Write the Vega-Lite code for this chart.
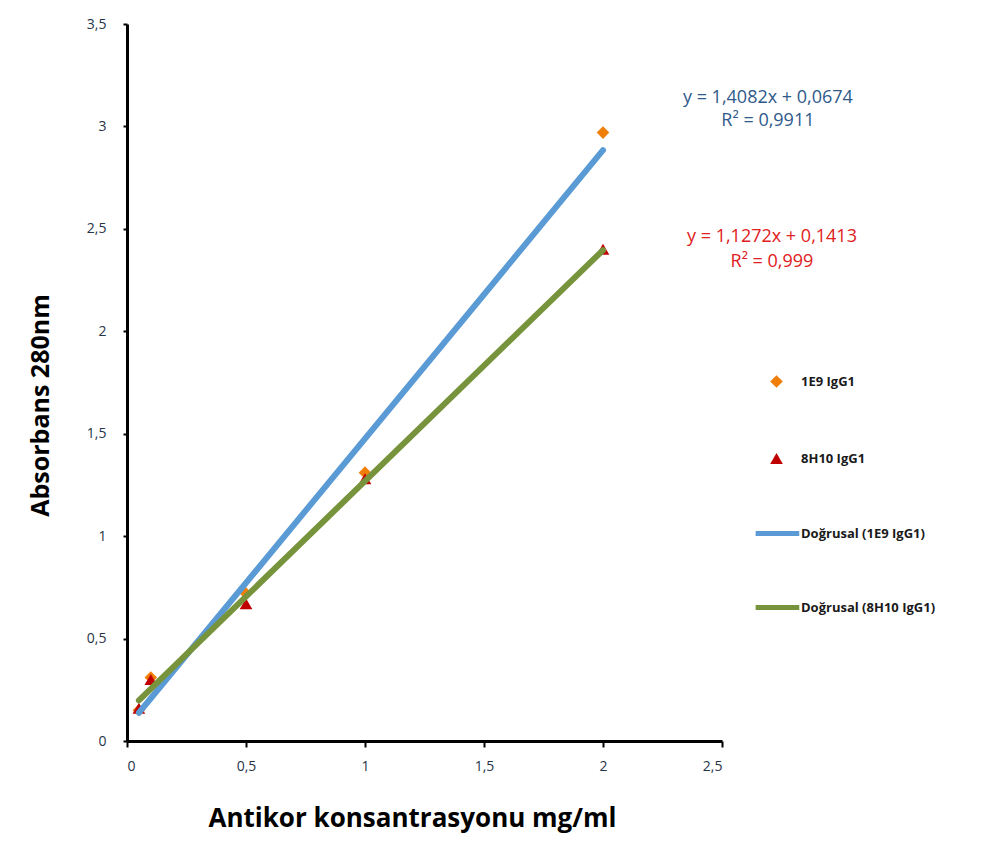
{
  "$schema": "https://vega.github.io/schema/vega-lite/v6.json",
  "width": 595,
  "height": 717,
  "autosize": {"type": "none"},
  "padding": {"left": 127, "top": 24, "right": 265, "bottom": 118},
  "background": "white",
  "config": {"view": {"stroke": null}, "font": "Open Sans"},
  "datasets": {
    "points": [
      {"conc": 0.05, "abs": 0.15, "series": "1E9 IgG1"},
      {"conc": 0.1, "abs": 0.31, "series": "1E9 IgG1"},
      {"conc": 0.5, "abs": 0.72, "series": "1E9 IgG1"},
      {"conc": 1.0, "abs": 1.31, "series": "1E9 IgG1"},
      {"conc": 2.0, "abs": 2.97, "series": "1E9 IgG1"},
      {"conc": 0.05, "abs": 0.16, "series": "8H10 IgG1"},
      {"conc": 0.1, "abs": 0.30, "series": "8H10 IgG1"},
      {"conc": 0.5, "abs": 0.67, "series": "8H10 IgG1"},
      {"conc": 1.0, "abs": 1.28, "series": "8H10 IgG1"},
      {"conc": 2.0, "abs": 2.40, "series": "8H10 IgG1"}
    ],
    "trend": [
      {"conc": 0.05, "abs": 0.138, "series": "Doğrusal (1E9 IgG1)"},
      {"conc": 2.0, "abs": 2.884, "series": "Doğrusal (1E9 IgG1)"},
      {"conc": 0.05, "abs": 0.198, "series": "Doğrusal (8H10 IgG1)"},
      {"conc": 2.0, "abs": 2.396, "series": "Doğrusal (8H10 IgG1)"}
    ],
    "eq": [
      {"conc": 2.693, "abs": 3.138, "label": "y = 1,4082x + 0,0674", "grp": "a"},
      {"conc": 2.693, "abs": 3.026, "label": "R² = 0,9911", "grp": "a"},
      {"conc": 2.71, "abs": 2.46, "label": "y = 1,1272x + 0,1413", "grp": "b"},
      {"conc": 2.71, "abs": 2.338, "label": "R² = 0,999", "grp": "b"}
    ]
  },
  "encoding": {
    "x": {
      "field": "conc", "type": "quantitative",
      "scale": {"domain": [0, 2.5], "nice": false, "zero": false},
      "axis": {
        "values": [0, 0.5, 1, 1.5, 2, 2.5],
        "labelExpr": "replace(toString(datum.value), '.', ',')",
        "title": "Antikor konsantrasyonu mg/ml",
        "titleFontSize": 26, "titleFontWeight": "bold", "titleColor": "#000000",
        "titlePadding": 32, "titleX": 285,
        "domainColor": "#000000", "domainWidth": 3,
        "tickColor": "#000000", "tickWidth": 2, "tickSize": 6,
        "labelFontSize": 14, "labelColor": "#263548", "labelPadding": 12,
        "grid": false
      }
    },
    "y": {
      "field": "abs", "type": "quantitative",
      "scale": {"domain": [0, 3.5], "nice": false},
      "axis": {
        "values": [0, 0.5, 1, 1.5, 2, 2.5, 3, 3.5],
        "labelExpr": "replace(toString(datum.value), '.', ',')",
        "title": "Absorbans 280nm",
        "titleFontSize": 25, "titleFontWeight": "bold", "titleColor": "#000000",
        "titlePadding": 33, "titleY": 381,
        "domainColor": "#000000", "domainWidth": 3,
        "tickColor": "#000000", "tickWidth": 2, "tickSize": 4,
        "labelFontSize": 14, "labelColor": "#263548", "labelPadding": 17,
        "grid": false
      }
    }
  },
  "layer": [
    {
      "data": {"name": "points"},
      "mark": {"type": "point", "filled": true, "opacity": 1, "size": 160},
      "encoding": {
        "color": {
          "field": "series", "type": "nominal",
          "scale": {
            "domain": ["1E9 IgG1", "8H10 IgG1", "Doğrusal (1E9 IgG1)", "Doğrusal (8H10 IgG1)"],
            "range": ["#F07F09", "#C00000", "#5B9BD5", "#77933C"]
          },
          "legend": {
            "title": null, "orient": "none", "legendX": 642, "legendY": 350,
            "padding": 0, "symbolSize": 160, "rowPadding": 59, "labelOffset": 17,
            "labelFontSize": 13, "labelFontWeight": "bold", "labelColor": "#1a1a1a",
            "symbolOpacity": 1, "labelLimit": 300
          }
        },
        "shape": {
          "field": "series", "type": "nominal",
          "scale": {
            "domain": ["1E9 IgG1", "8H10 IgG1", "Doğrusal (1E9 IgG1)", "Doğrusal (8H10 IgG1)"],
            "range": ["diamond", "triangle-up", "M-3.3,-0.4H3.6V0.4H-3.3Z", "M-3.3,-0.4H3.6V0.4H-3.3Z"]
          }
        }
      }
    },
    {
      "data": {"name": "trend"},
      "transform": [{"filter": "datum.series === 'Doğrusal (1E9 IgG1)'"}],
      "mark": {"type": "line", "color": "#5B9BD5", "strokeWidth": 6, "strokeCap": "round"},
      "encoding": {}
    },
    {
      "data": {"name": "trend"},
      "transform": [{"filter": "datum.series === 'Doğrusal (8H10 IgG1)'"}],
      "mark": {"type": "line", "color": "#77933C", "strokeWidth": 6, "strokeCap": "round"},
      "encoding": {}
    },
    {
      "data": {"name": "eq"},
      "transform": [{"filter": "datum.grp === 'a'"}],
      "mark": {"type": "text", "color": "#2F5A8A", "fontSize": 18, "align": "center", "baseline": "middle"},
      "encoding": {"text": {"field": "label"}}
    },
    {
      "data": {"name": "eq"},
      "transform": [{"filter": "datum.grp === 'b'"}],
      "mark": {"type": "text", "color": "#E02020", "fontSize": 18, "align": "center", "baseline": "middle"},
      "encoding": {"text": {"field": "label"}}
    }
  ]
}
